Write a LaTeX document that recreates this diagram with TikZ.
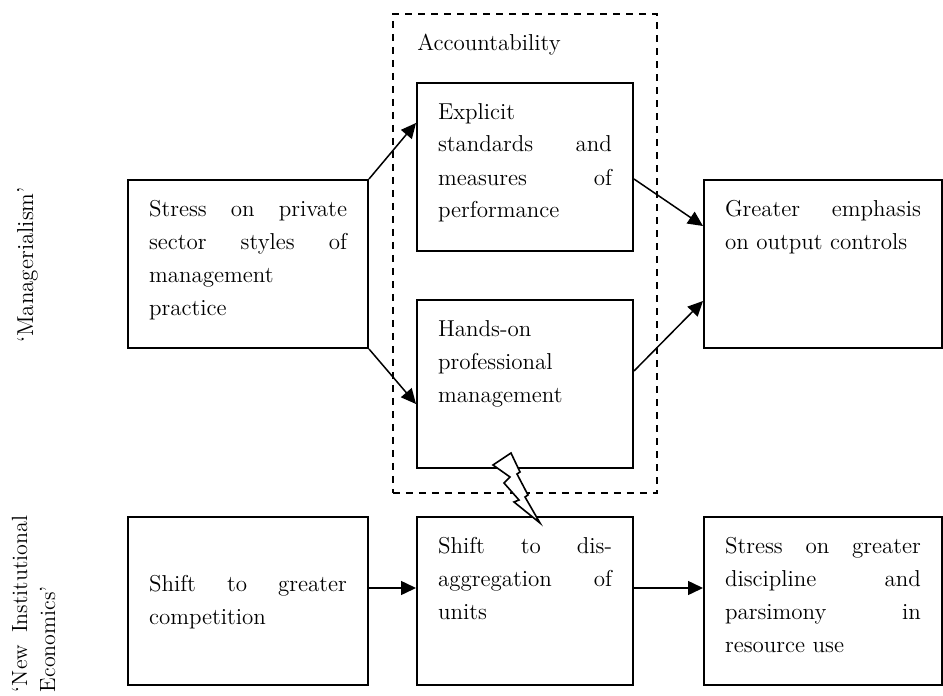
\documentclass[tikz,border=0pt]{standalone}
\usetikzlibrary{arrows.meta,calc}
% top-aligned justified block: first baseline 18pt below the frame top
\newcommand\topblock[2]{\parbox[t][84pt][t]{#1}{\rule{0pt}{18pt}#2}}
% vertically centred justified block
\newcommand\midblock[2]{\parbox[t][84pt][c]{#1}{\strut#2\strut}}
\begin{document}
\begin{tikzpicture}[x=0.5pt,y=-0.5pt,
  every node/.style={font=\fontsize{11.5}{16.5}\selectfont},
  frame/.style={draw, line width=1pt, inner xsep=10.5pt, inner ysep=0pt,
    anchor=north west},
  group/.style={draw, line width=0.8pt, dash pattern=on 3.5pt off 3pt,
    inner sep=0pt, anchor=north west, minimum width=132pt, minimum height=239.5pt},
  link/.style={line width=0.75pt, -{Triangle[length=7.5pt,width=7pt]}},
  bolt/.style={draw, fill=white, line width=0.8pt, line join=miter}]
\useasboundingbox (0,0) rectangle (943,696);

% accountability group
\node[group] (acctbox) at (392,13) {};
\node[anchor=base west, inner sep=0pt] (acct) at (417,50) {Accountability};

% upper row
\node[frame] (stress) at (127,179)
  {\topblock{99pt}{Stress on private\linebreak sector styles of\linebreak management\\practice}};
\node[frame] (explicit) at (416,82)
  {\topblock{87pt}{Explicit\\standards and\linebreak measures of\linebreak performance}};
\node[frame] (handson) at (416,299)
  {\topblock{87pt}{Hands-on\\professional\\management}};
\node[frame] (emphasis) at (703,179)
  {\topblock{98pt}{Greater emphasis\linebreak on output controls}};

% lower row
\node[frame] (compete) at (127,516)
  {\midblock{99pt}{Shift to greater\linebreak competition}};
\node[frame] (disagg) at (416,516)
  {\topblock{87pt}{Shift to dis-\linebreak aggregation of\linebreak units}};
\node[frame] (parsim) at (703,516)
  {\topblock{98pt}{Stress on greater\linebreak discipline and\linebreak parsimony in\linebreak resource use}};

% side labels
\node[rotate=90, anchor=base, inner sep=0pt] (mgr) at (33,265) {‘Managerialism’};
\node[rotate=90, anchor=base, inner sep=0pt,
  font=\fontsize{11}{14}\selectfont] (nie) at (27,604)
  {\parbox[t]{88pt}{‘New\hfill Institutional\\Economics’}};

% connectors
\draw[link] (stress.north east) -- ($(explicit.north west)+(0,41)$);
\draw[link] (stress.south east) -- ($(handson.south west)+(0,-65)$);
\draw[link] ($(explicit.north east)+(0,97)$) -- ($(emphasis.north west)+(0,47)$);
\draw[link] ($(handson.north east)+(0,72)$) -- ($(emphasis.north west)+(0,122)$);
\draw[link] ($(compete.east)+(0,-13)$) -- ($(disagg.west)+(0,-13)$);
\draw[link] ($(disagg.east)+(0,-13)$) -- ($(parsim.west)+(0,-13)$);

% tension flash between the two management boxes
\path[bolt] (493,465) -- (511,453) -- (520,472) -- (517,474) -- (528,495)
  -- (525,497) -- (540,523) -- (514,502) -- (519,500) -- (504,483)
  -- (510,477) -- cycle;
\end{tikzpicture}
\end{document}
